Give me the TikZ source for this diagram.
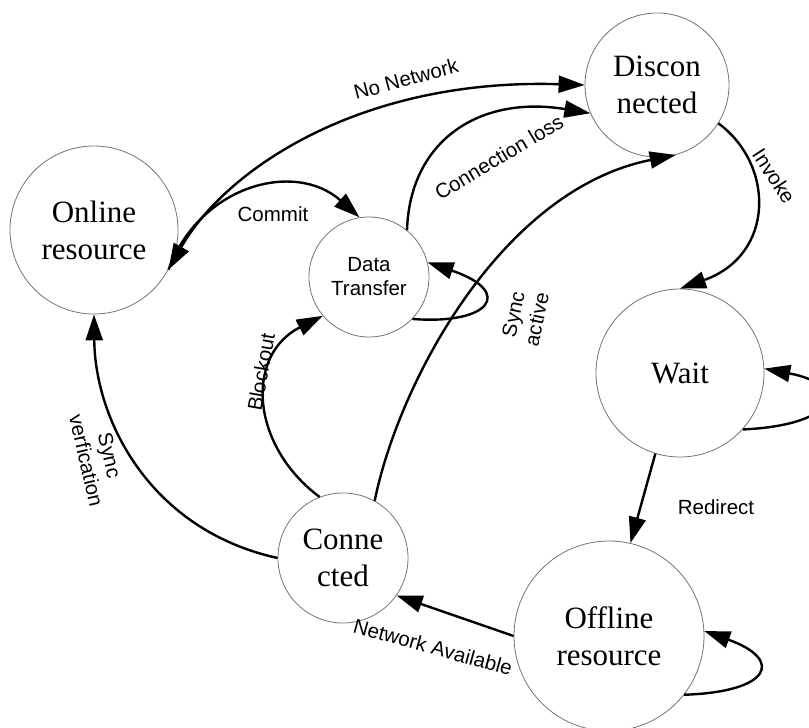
\documentclass[tikz,border=0pt]{standalone}
\usepackage{fontspec}
\setmainfont{Liberation Serif}
\setsansfont{Liberation Sans}
\usetikzlibrary{arrows.meta}
\begin{document}
\begin{tikzpicture}[x=1pt,y=-1pt,
  >={Triangle[length=26pt,width=17pt]},
  state/.style={circle,draw=black!55,line width=0.8pt,inner sep=0pt,align=center,font=\fontsize{31}{37}\selectfont},
  edge/.style={line width=2.4pt,->},
  lbl/.style={font=\sffamily\fontsize{20.5}{24}\selectfont,align=center,inner sep=0pt}]
\useasboundingbox (0,0) rectangle (809,728);
\clip (0,0) rectangle (809,728);
\node[state,minimum size=168pt] (on) at (94,230) {Online\\resource};
\node[state,minimum size=144pt] (dis) at (657,85) {Discon\\nected};
\node[state,minimum size=120pt,font=\sffamily\fontsize{20.5}{24}\selectfont] (dt) at (369,277) {Data\\Transfer};
\node[state,minimum size=168pt] (wait) at (680,373) {Wait};
\node[state,minimum size=130pt] (con) at (343,558) {Conne\\cted};
\node[state,minimum size=190pt] (off) at (609,636) {Offline\\resource};

% No Network (arrow heads at both ends)
\draw[line width=2.4pt,<->] (on.-28) .. controls (225,170) and (360,78) .. (dis.180);
% Commit
\draw[edge] (on.-28) .. controls (200,185) and (295,160) .. (dt.99);
% Connection loss
\draw[edge] (dt.51) .. controls (410,140) and (480,95) .. (dis.-157);
% Connected -> Disconnected
\draw[edge] (con.61) .. controls (398,385) and (500,190) .. (dis.-75);
% Invoke
\draw[edge] (dis.-32) .. controls (775,165) and (775,255) .. (wait.90);
% Sync active loop
\draw[edge] (dt.-44) .. controls (490,325) and (515,292) .. (dt.14);
% Blockout
\draw[edge] (con.111) .. controls (250,445) and (245,355) .. (dt.220);
% Sync verfication
\draw[edge] (con.180) .. controls (150,530) and (95,420) .. (on.-90);
% Redirect
\draw[edge] (wait.-107) -- (off.77);
% Wait loop
\draw[edge] (wait.-42) .. controls (840,425) and (850,385) .. (wait.3);
% Offline loop
\draw[edge] (off.-38) .. controls (770,692) and (785,660) .. (off.3);
% Network Available
\draw[edge] (off.180) -- (con.-35);

\node[lbl,rotate=15] (lnn) at (406,79) {No Network};
\node[lbl] (lcm) at (273,214) {Commit};
\node[lbl,rotate=31] (lcl) at (499,157) {Connection loss};
\node[lbl,rotate=-57] (linv) at (774,176) {Invoke};
\node[lbl,rotate=78] (lsa) at (525,317) {Sync\\active};
\node[lbl,rotate=80] (lbo) at (261,372) {Blockout};
\node[lbl,rotate=-77] (lsv) at (98,458) {Sync\\verfication};
\node[lbl] (lrd) at (716,507) {Redirect};
\node[lbl,rotate=-15.5] (lna) at (433,647) {Network Available};
\end{tikzpicture}
\end{document}
